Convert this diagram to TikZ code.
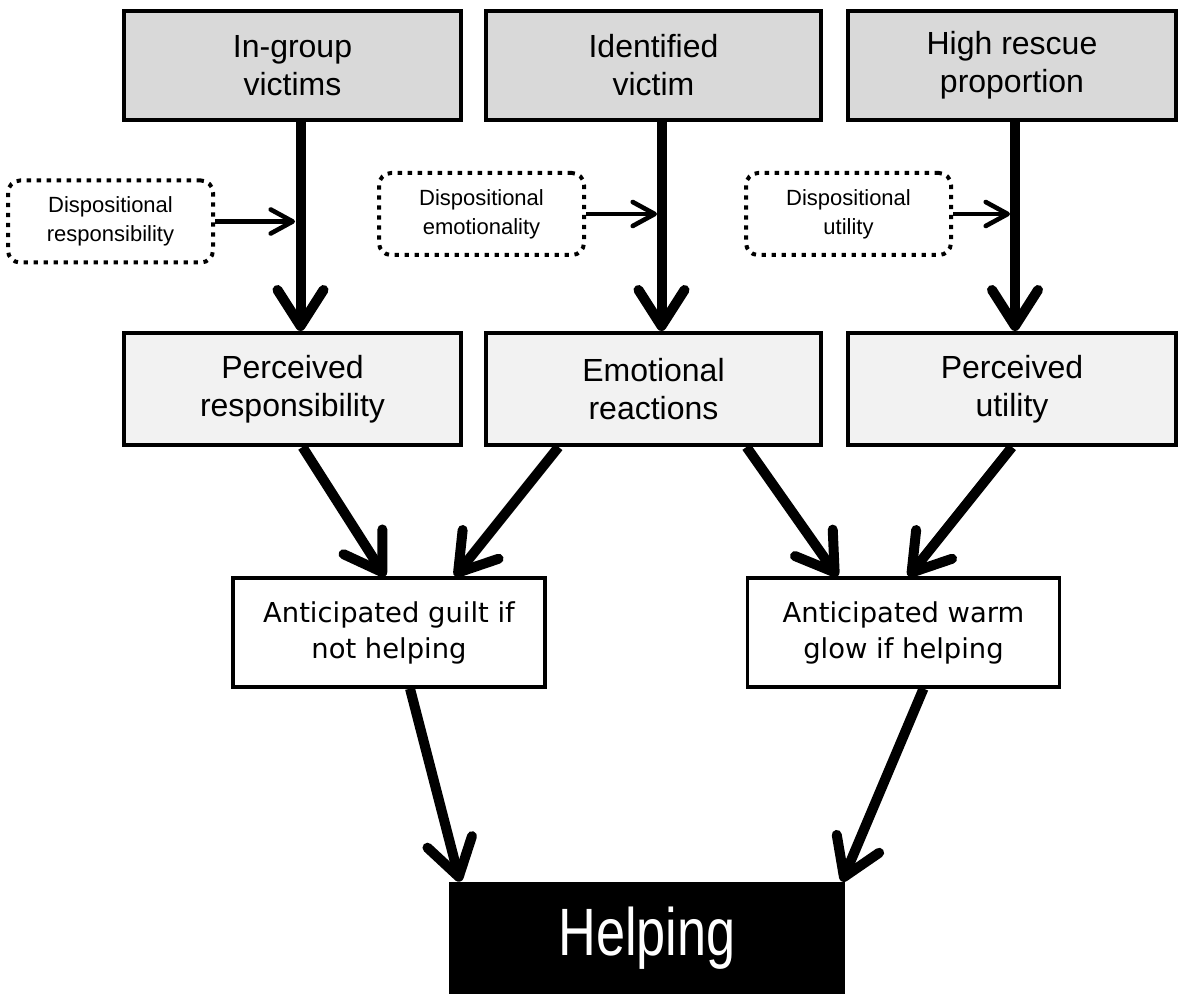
\documentclass[tikz,border=0pt]{standalone}
\usepackage{fontspec}
\setmainfont{Liberation Sans}
\newfontfamily\guiltfont{DejaVu Sans}
\newfontfamily\narrowfont{Liberation Sans}[FakeStretch=0.78]
\usepackage{tikz}
\usetikzlibrary{arrows.meta}
\definecolor{topgray}{RGB}{217,217,217}
\definecolor{midgray}{RGB}{242,242,242}

\begin{document}
\begin{tikzpicture}[x=0.5pt,y=-0.5pt,
  cause/.style={draw,line width=2pt,fill=topgray,minimum height=54.5pt,
    inner sep=0pt,align=center,font=\fontsize{16}{19}\selectfont},
  perceived/.style={cause,fill=midgray,minimum height=56pt},
  dispo/.style={draw,line width=2pt,dash pattern=on 2.2pt off 2.8pt,
    rounded corners=6pt,minimum width=102.5pt,minimum height=41pt,
    inner sep=0pt,align=center,font=\fontsize{11}{14.5}\selectfont},
  anticip/.style={draw,line width=1.6pt,fill=white,minimum width=156pt,
    minimum height=54.5pt,inner sep=0pt,align=center,
    font=\guiltfont\fontsize{13.7}{18}\selectfont},
  outcome/.style={fill=black,text=white,minimum width=198pt,minimum height=56pt,
    inner sep=0pt,font=\narrowfont\fontsize{33.5}{40}\selectfont},
  bigarrow/.style={line width=5pt,-{Straight Barb[length=18pt,width=23pt,round]}},
  smallarrow/.style={line width=2.3pt,-{Straight Barb[length=11pt,width=12pt,round]}}]
  \useasboundingbox (0,0) rectangle (1178,994);
  % causes
  \node[cause,minimum width=168.5pt] (ingroup) at (292.5,65.5) {In-group\\victims};
  \node[cause,minimum width=167.5pt] (identified) at (653.5,65.5) {Identified\\victim};
  \node[cause,minimum width=164pt] (rescue) at (1012,65.5) {High rescue\\proportion};
  % mediators
  \node[perceived,minimum width=168.5pt] (resp) at (292.5,389) {Perceived\\responsibility};
  \node[perceived,minimum width=167.5pt] (emo) at (653.5,389) {Emotional\\reactions};
  \node[perceived,minimum width=164pt] (util) at (1012,389) {Perceived\\utility};
  % moderators
  \node[dispo] (dresp) at (110.5,221.5) {Dispositional\\responsibility};
  \node[dispo] (demo) at (481.5,214) {Dispositional\\emotionality};
  \node[dispo] (dutil) at (848.5,214) {Dispositional\\utility};
  \coordinate (jresp) at (295,221.5);
  \coordinate (jemo) at (657,214);
  \coordinate (jutil) at (1010,214);
  % anticipated feelings
  \node[anticip] (guilt) at (389,632.5) {Anticipated guilt if\\not helping};
  \node[anticip] (glow) at (903.5,632.5) {Anticipated warm\\glow if helping};
  \node[outcome] (help) at (647,938) {Helping};
  % paths
  \draw[bigarrow] ([xshift=4pt]ingroup.south) -- ([xshift=4pt]resp.north);
  \draw[bigarrow] ([xshift=4pt]identified.south) -- ([xshift=4pt]emo.north);
  \draw[bigarrow] ([xshift=1.5pt]rescue.south) -- ([xshift=1.5pt]util.north);
  \draw[smallarrow] (dresp.east) -- (jresp);
  \draw[smallarrow] (demo.east) -- (jemo);
  \draw[smallarrow] (dutil.east) -- (jutil);
  \draw[bigarrow] ([xshift=5pt]resp.south) -- ([xshift=-2pt]guilt.north);
  \draw[bigarrow] ([xshift=-47.5pt]emo.south) -- ([xshift=33pt]guilt.north);
  \draw[bigarrow] ([xshift=46.5pt]emo.south) -- ([xshift=-33pt]glow.north);
  \draw[bigarrow] (util.south) -- ([xshift=2.5pt]glow.north);
  \draw[bigarrow] ([xshift=10.5pt]guilt.south) -- ([xshift=-93.5pt]help.north);
  \draw[bigarrow] ([xshift=10pt]glow.south) -- ([xshift=97.5pt]help.north);
\end{tikzpicture}
\end{document}
